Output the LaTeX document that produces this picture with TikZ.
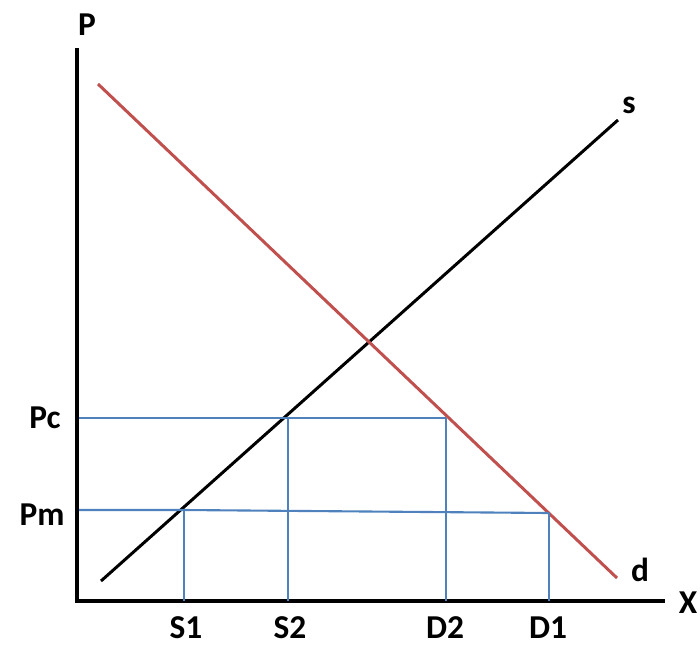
\documentclass[tikz,border=0pt]{standalone}
\usepackage{fontspec}
\setmainfont{Carlito}
\usepackage{xcolor}
\usetikzlibrary{positioning}

\definecolor{demandred}{RGB}{192,80,77}
\definecolor{gridblue}{RGB}{79,129,189}

\tikzset{
    axis/.style={line width=2.3pt, black},
    curve/.style={line width=1.7pt},
    guide/.style={line width=1.2pt, gridblue},
    lbl/.style={font=\fontsize{19}{22}\selectfont\bfseries, inner sep=0pt},
    qlbl/.style={lbl, text depth=0pt}
}

\begin{document}
\begin{tikzpicture}[x=0.02cm, y=-0.02cm]
        \useasboundingbox (0,0) rectangle (700,646);

        % Axes
        \coordinate (origin) at (77,601);
        \coordinate (ytop) at (77,50);
        \coordinate (xend) at (663,601);
        \draw[axis, line cap=rect] (ytop) -- (origin) -- (xend);
        \node[lbl] (plabel) at (87,25) {P};
        \node[lbl] (xlabel) at (688,603) {X};

        % Supply and demand
        \coordinate (sstart) at (101,581);
        \coordinate (send) at (618,120);
        \coordinate (dstart) at (98,84);
        \coordinate (dend) at (617,578);
        \draw[curve, black] (sstart) -- (send);
        \draw[curve, demandred] (dstart) -- (dend);
        \node[lbl] (slabel) at (629,105) {s};
        \node[lbl] (dlabel) at (640,570) {d};

        % Price levels
        \coordinate (pcleft) at (79,418);
        \coordinate (pcS) at (288,418);
        \coordinate (pcD) at (446,418);
        \coordinate (pmleft) at (79,510);
        \coordinate (pmS) at (184,510);
        \coordinate (pmD) at (549,513);
        \draw[guide] (pcleft) -- (pcS) -- (pcD);
        \draw[guide] (pmleft) -- (pmS) -- (pmD);
        \node[lbl] (pclabel) at (45,418) {Pc};
        \node[lbl] (pmlabel) at (42,515) {Pm};

        % Quantities
        \coordinate (s1foot) at (184,601);
        \coordinate (s2foot) at (288,601);
        \coordinate (d2foot) at (446,601);
        \coordinate (d1foot) at (549,601);
        \draw[guide] (pmS) -- (s1foot);
        \draw[guide] (pcS) -- (s2foot);
        \draw[guide] (pcD) -- (d2foot);
        \draw[guide] (pmD) -- (d1foot);
        \node[qlbl] (s1label) at (186,628) {S1};
        \node[qlbl] (s2label) at (290,628) {S2};
        \node[qlbl] (d2label) at (445,628) {D2};
        \node[qlbl] (d1label) at (548,628) {D1};
    \end{tikzpicture}
\end{document}
